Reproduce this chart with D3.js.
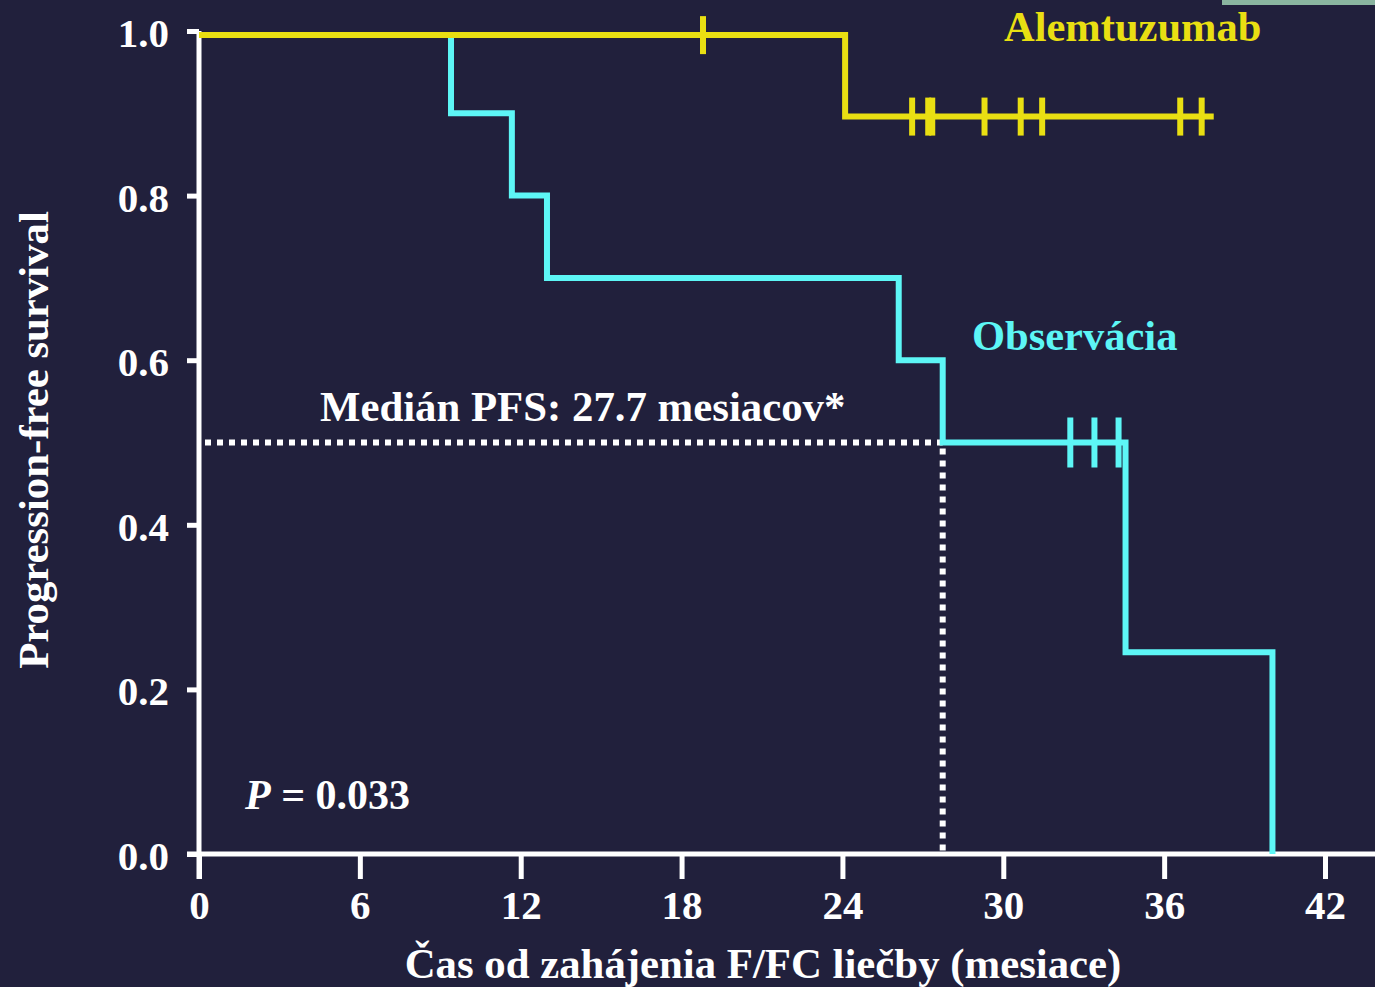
<!DOCTYPE html>
<html>
<head>
<meta charset="utf-8">
<script src="https://cdn.jsdelivr.net/npm/d3@7"></script>
<style>
  html, body { margin: 0; padding: 0; background: #21203c; }
  svg { display: block; }
  text { font-family: "Liberation Serif", "Times New Roman", serif; font-weight: bold; }
</style>
</head>
<body>
<svg id="chart" width="1375" height="987"></svg>
<script>
// ---- data ----
const xTicks = [0, 6, 12, 18, 24, 30, 36, 42];
const yTicks = [0.0, 0.2, 0.4, 0.6, 0.8, 1.0];

// Alemtuzumab (yellow) Kaplan-Meier steps
const alemTimes = [0, 24.1, 37.85];
const alemSurv  = [0.995, 0.896, 0.896];
const alemCensor = [18.8, 26.6, 27.2, 27.35, 29.3, 30.65, 31.45, 36.6, 37.4];

// Observation (cyan) Kaplan-Meier steps
const obsTimes = [0, 9.4, 11.67, 12.98, 26.1, 27.74, 34.56, 40.04];
const obsSurv  = [0.995, 0.9, 0.8, 0.7, 0.6, 0.5, 0.245, 0.0];
const obsCensor = [32.5, 33.4, 34.3];

const medianTime = 27.74;
const medianSurv = 0.5;

const labels = {
  yTitle: "Progression-free survival",
  xTitle: "Čas od zahájenia F/FC liečby (mesiace)",
  alem: "Alemtuzumab",
  obs: "Observácia",
  median: "Medián PFS: 27.7 mesiacov*",
  pval: "0.033"
};

// ---- drawing ----
const W = 1375, H = 987;
const colBg = "#21203c", colYellow = "#e9df12", colCyan = "#5df6f6", colWhite = "#ffffff";

const svg = d3.select("#chart");
svg.append("rect").attr("width", W).attr("height", H).attr("fill", colBg);
svg.append("rect").attr("x", 1222).attr("y", 0).attr("width", 153).attr("height", 5).attr("fill", "#8ab5a0");

const x = d3.scaleLinear().domain([0, 42]).range([199, 1325]);
const y = d3.scaleLinear().domain([0, 1]).range([854, 31]);

// axes
const xAxis = d3.axisBottom(x).tickValues(xTicks).tickFormat(d3.format("d"))
  .tickSize(25).tickSizeOuter(0).tickPadding(11);
const yAxis = d3.axisLeft(y).tickValues(yTicks).tickFormat(d3.format(".1f"))
  .tickSize(12).tickSizeOuter(0).tickPadding(18);

const gx = svg.append("g").attr("transform", `translate(0,${y(0)})`).call(xAxis);
const gy = svg.append("g").attr("transform", `translate(${x(0)},0)`).call(yAxis);

[gx, gy].forEach(g => {
  g.select(".domain").remove();
  g.selectAll(".tick line").attr("stroke", colWhite).attr("stroke-width", 5);
  g.selectAll(".tick text").attr("fill", colWhite)
    .style("font-size", "41px").style("font-family", "'Liberation Serif', 'Times New Roman', serif")
    .style("font-weight", "bold");
});
gy.selectAll(".tick text").attr("dy", "0.38em");

// axis lines
svg.append("line").attr("x1", x(0) - 12).attr("x2", W).attr("y1", y(0)).attr("y2", y(0))
  .attr("stroke", colWhite).attr("stroke-width", 5);
svg.append("line").attr("x1", x(0)).attr("x2", x(0)).attr("y1", y(1)).attr("y2", y(0) + 25)
  .attr("stroke", colWhite).attr("stroke-width", 5);

// median dotted lines
svg.append("line").attr("x1", x(0) + 6).attr("x2", x(medianTime)).attr("y1", y(medianSurv)).attr("y2", y(medianSurv))
  .attr("stroke", colWhite).attr("stroke-width", 6).attr("stroke-dasharray", "6,6");
svg.append("line").attr("x1", x(medianTime)).attr("x2", x(medianTime)).attr("y1", y(medianSurv) + 6).attr("y2", y(0))
  .attr("stroke", colWhite).attr("stroke-width", 6).attr("stroke-dasharray", "6,6");

const line = d3.line().x(d => x(d[0])).y(d => y(d[1])).curve(d3.curveStepAfter);
function stepAt(times, surv, t) {
  let v = surv[0];
  for (let i = 0; i < times.length; i++) if (times[i] <= t) v = surv[i];
  return v;
}

// observation curve
svg.append("path").datum(obsTimes.map((t, i) => [t, obsSurv[i]]))
  .attr("d", line).attr("fill", "none").attr("stroke", colCyan).attr("stroke-width", 6)
  .attr("stroke-linejoin", "miter");
svg.append("g").selectAll("line").data(obsCensor).join("line")
  .attr("x1", d => x(d)).attr("x2", d => x(d))
  .attr("y1", d => y(stepAt(obsTimes, obsSurv, d)) - 25)
  .attr("y2", d => y(stepAt(obsTimes, obsSurv, d)) + 25)
  .attr("stroke", colCyan).attr("stroke-width", 6);

// alemtuzumab curve
svg.append("path").datum(alemTimes.map((t, i) => [t, alemSurv[i]]))
  .attr("d", line).attr("fill", "none").attr("stroke", colYellow).attr("stroke-width", 6)
  .attr("stroke-linejoin", "miter");
svg.append("g").selectAll("line").data(alemCensor).join("line")
  .attr("x1", d => x(d)).attr("x2", d => x(d))
  .attr("y1", d => y(stepAt(alemTimes, alemSurv, d)) - 19)
  .attr("y2", d => y(stepAt(alemTimes, alemSurv, d)) + 19)
  .attr("stroke", colYellow).attr("stroke-width", 6);

// texts
svg.append("text").attr("x", 1004).attr("y", 41).attr("fill", colYellow)
  .style("font-size", "42.5px").text(labels.alem);
svg.append("text").attr("x", 972).attr("y", 350).attr("fill", colCyan)
  .style("font-size", "42.5px").text(labels.obs);
svg.append("text").attr("x", 320).attr("y", 421).attr("fill", colWhite)
  .style("font-size", "42.8px").text(labels.median);

const pt = svg.append("text").attr("x", 245).attr("y", 809).attr("fill", colWhite).style("font-size", "42px");
pt.append("tspan").style("font-style", "italic").text("P");
pt.append("tspan").text(" = " + labels.pval);

svg.append("text").attr("transform", "translate(48,440) rotate(-90)").attr("text-anchor", "middle")
  .attr("fill", colWhite).style("font-size", "42.8px").text(labels.yTitle);
svg.append("text").attr("x", 763).attr("y", 978).attr("text-anchor", "middle")
  .attr("fill", colWhite).style("font-size", "42.8px").text(labels.xTitle);
</script>
</body>
</html>
